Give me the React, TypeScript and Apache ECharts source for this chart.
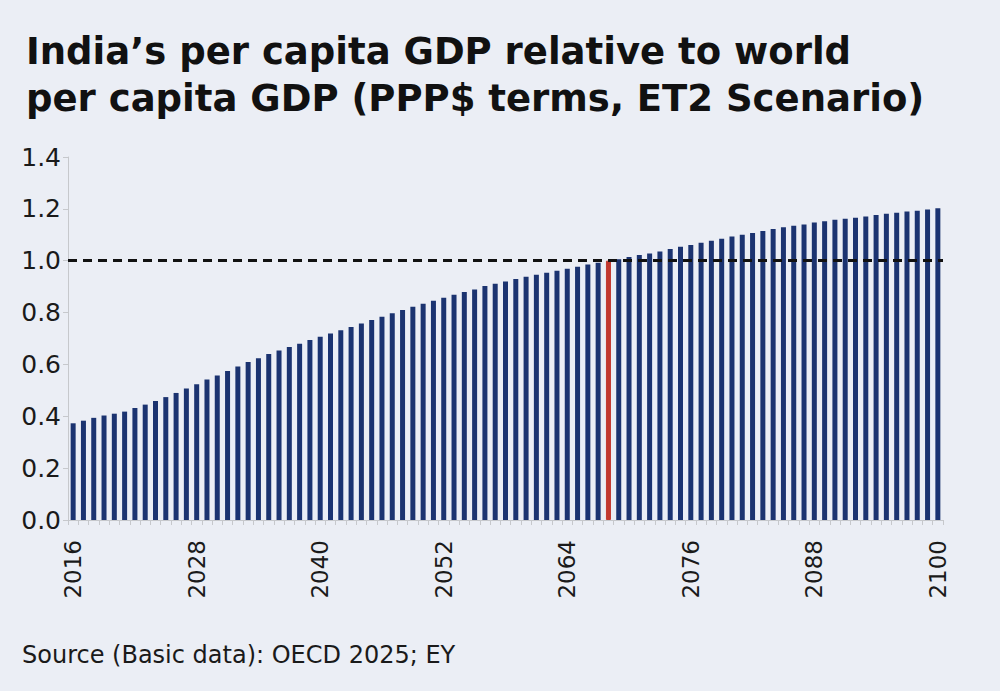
import React, { useEffect, useRef } from "react";
import * as echarts from "echarts";

// years 2016 … 2100
const years: string[] = Array.from({ length: 85 }, (_, i) => String(2016 + i));

// India per capita GDP / world per capita GDP (PPP$), ET2 scenario
const ratio: number[] = [
  0.373, 0.383, 0.394, 0.403, 0.41, 0.418, 0.432, 0.445, 0.459, 0.474,
  0.49, 0.507, 0.524, 0.542, 0.557, 0.575, 0.592, 0.609, 0.624, 0.64,
  0.654, 0.667, 0.68, 0.694, 0.707, 0.719, 0.732, 0.744, 0.758, 0.771,
  0.784, 0.797, 0.81, 0.822, 0.834, 0.846, 0.857, 0.869, 0.879, 0.889,
  0.902, 0.911, 0.92, 0.929, 0.938, 0.946, 0.954, 0.961, 0.969, 0.977,
  0.985, 0.992, 1.0, 1.006, 1.014, 1.022, 1.028, 1.036, 1.045, 1.054,
  1.061, 1.069, 1.077, 1.085, 1.093, 1.1, 1.107, 1.115, 1.122, 1.129,
  1.135, 1.14, 1.147, 1.152, 1.158, 1.162, 1.166, 1.171, 1.176, 1.181,
  1.185, 1.19, 1.193, 1.198, 1.202,
];

const parityYear = "2068"; // year the ratio reaches 1.0
const parityLevel = 1.0;

const titleText = "India’s per capita GDP relative to world\nper capita GDP (PPP$ terms, ET2 Scenario)";
const sourceText = "Source (Basic data): OECD 2025; EY";

const FONT = "'DejaVu Sans', sans-serif";

const App: React.FC = () => {
  const chartRef = useRef<HTMLDivElement>(null);

  useEffect(() => {
    if (!chartRef.current) return;
    const chart = echarts.init(chartRef.current, null, { renderer: "svg" });

    const barData = ratio.map((v, i) =>
      years[i] === parityYear
        ? {
            value: v,
            itemStyle: { color: "#c1382f", borderColor: "#c1382f", borderWidth: 1 },
          }
        : v
    );

    const option = {
      animation: false,
      backgroundColor: "#ebeef5",
      textStyle: { fontFamily: FONT },
      title: {
        text: titleText,
        left: 21,
        top: 23,
        textStyle: {
          fontFamily: FONT,
          fontSize: 37,
          fontWeight: "bold",
          color: "#111111",
          lineHeight: 47,
        },
      },
      grid: { left: 68, top: 157, width: 875, height: 363 },
      xAxis: {
        type: "category",
        data: years,
        axisLine: { lineStyle: { color: "#c6c8cc", width: 1 } },
        axisTick: { show: true, interval: 0, length: 5, lineStyle: { color: "#c6c8cc" } },
        axisLabel: {
          interval: 11,
          rotate: 90,
          margin: 20,
          fontSize: 23,
          color: "#1a1a1a",
          fontFamily: FONT,
        },
      },
      yAxis: {
        type: "value",
        min: 0,
        max: 1.4,
        interval: 0.2,
        splitLine: { show: false },
        axisLine: { show: true, lineStyle: { color: "#c6c8cc", width: 1 } },
        axisTick: { show: true, length: 5, lineStyle: { color: "#c6c8cc" } },
        axisLabel: {
          margin: 7,
          fontSize: 25,
          color: "#1a1a1a",
          fontFamily: FONT,
          formatter: (v: number) => v.toFixed(1),
        },
      },
      series: [
        {
          type: "bar",
          data: barData,
          barWidth: 5,
          itemStyle: { color: "#1b3370" },
          markLine: {
            silent: true,
            symbol: "none",
            label: { show: false },
            lineStyle: { color: "#111111", width: 3, type: [9, 6] },
            data: [{ yAxis: parityLevel }],
          },
        },
      ],
      graphic: [
        {
          type: "text",
          left: 22,
          top: 643,
          style: {
            text: sourceText,
            fontSize: 24,
            fill: "#1a1a1a",
            fontFamily: FONT,
          },
        },
      ],
    };

    chart.setOption(option);
    return () => chart.dispose();
  }, []);

  return (
    <div
      ref={chartRef}
      style={{ position: "fixed", left: 0, top: 0, width: 1000, height: 691 }}
    />
  );
};

export default App;
